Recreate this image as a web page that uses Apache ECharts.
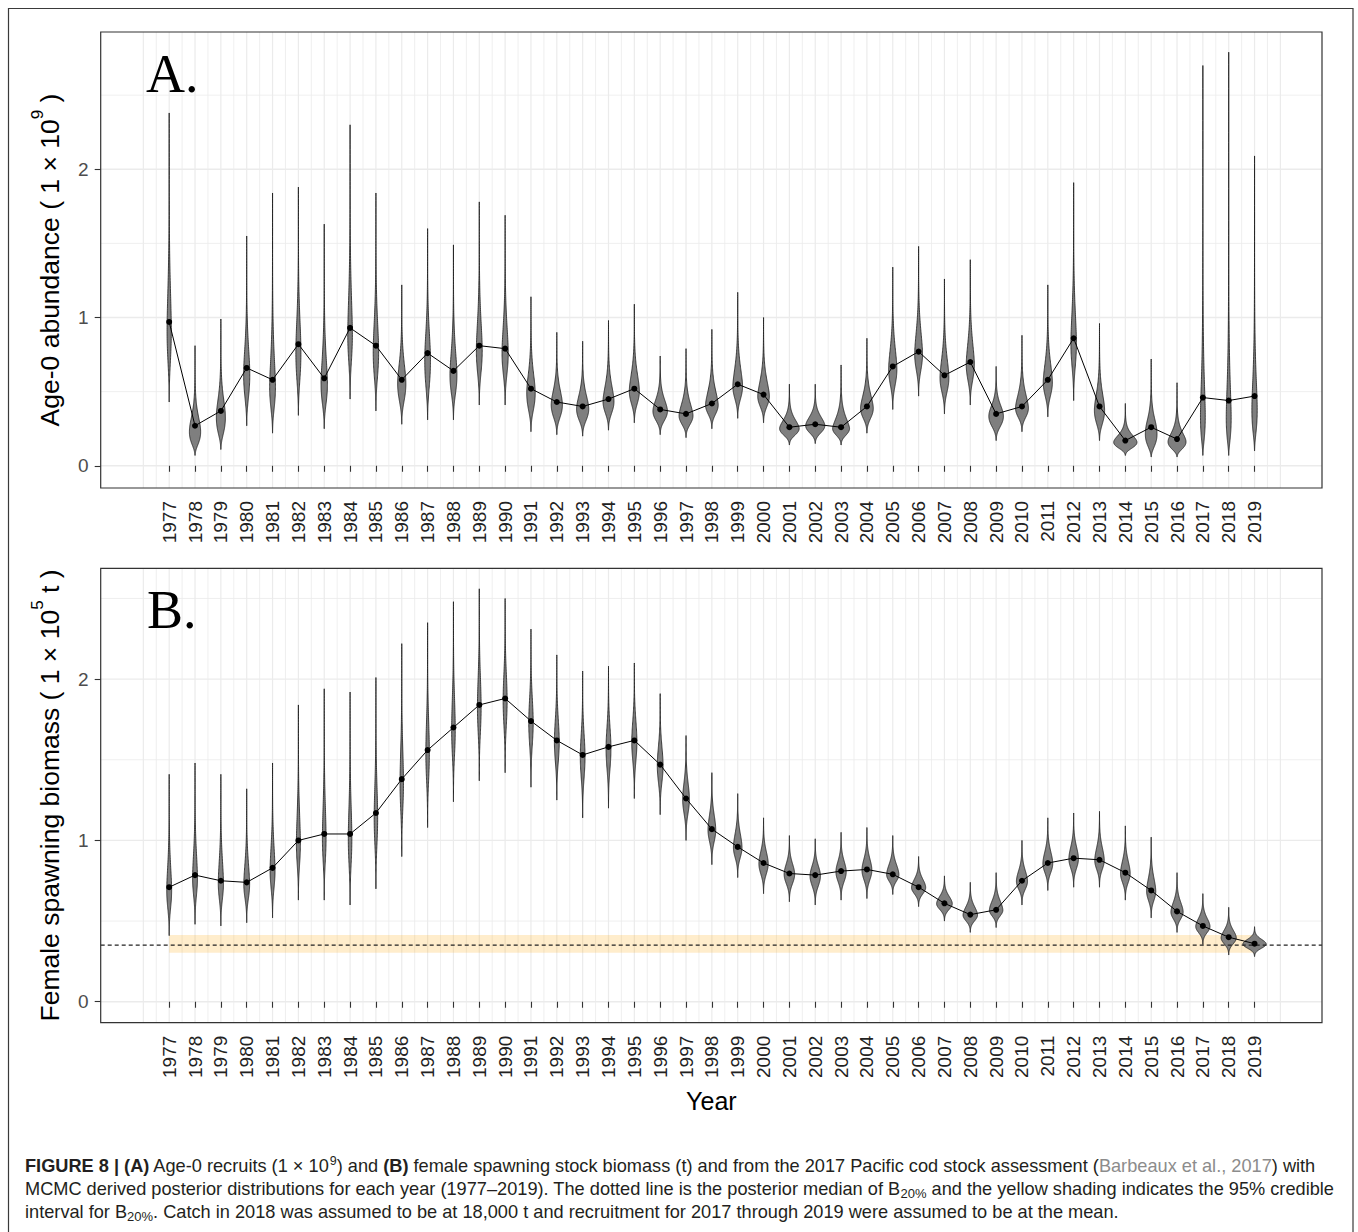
<!DOCTYPE html>
<html><head><meta charset="utf-8">
<script src="https://cdn.jsdelivr.net/npm/echarts@6/dist/echarts.min.js"></script>
<style>html,body{margin:0;padding:0;background:#fff}#c{width:1358px;height:1232px}</style>
</head><body><div id="c"></div>
<script>
const years = [1977,1978,1979,1980,1981,1982,1983,1984,1985,1986,1987,1988,1989,1990,1991,1992,1993,1994,1995,1996,1997,1998,1999,2000,2001,2002,2003,2004,2005,2006,2007,2008,2009,2010,2011,2012,2013,2014,2015,2016,2017,2018,2019];
// Panel A: Age-0 recruits (1e9)
const recMedian = [0.97,0.27,0.37,0.66,0.58,0.82,0.59,0.93,0.81,0.58,0.76,0.64,0.81,0.79,0.52,0.43,0.40,0.45,0.52,0.38,0.35,0.42,0.55,0.48,0.26,0.28,0.26,0.40,0.67,0.77,0.61,0.70,0.35,0.40,0.58,0.86,0.40,0.17,0.26,0.18,0.46,0.44,0.47];
const recLow    = [0.43,0.07,0.11,0.27,0.22,0.34,0.25,0.45,0.37,0.28,0.31,0.31,0.41,0.41,0.23,0.21,0.20,0.24,0.29,0.21,0.19,0.25,0.32,0.29,0.14,0.15,0.14,0.22,0.38,0.47,0.35,0.41,0.17,0.23,0.33,0.44,0.17,0.07,0.06,0.06,0.07,0.07,0.10];
const recHigh   = [2.38,0.81,0.99,1.55,1.84,1.88,1.63,2.30,1.84,1.22,1.60,1.49,1.78,1.69,1.14,0.90,0.84,0.98,1.09,0.74,0.79,0.92,1.17,1.00,0.55,0.55,0.68,0.86,1.34,1.48,1.26,1.39,0.67,0.88,1.22,1.91,0.96,0.42,0.72,0.56,2.70,2.79,2.09];
// Panel B: female spawning biomass (1e5 t)
const ssbMedian = [0.71,0.785,0.75,0.74,0.83,1.00,1.04,1.04,1.17,1.38,1.56,1.70,1.84,1.88,1.74,1.62,1.53,1.58,1.62,1.47,1.26,1.07,0.96,0.86,0.795,0.785,0.81,0.82,0.79,0.71,0.61,0.54,0.57,0.75,0.86,0.89,0.88,0.80,0.69,0.56,0.47,0.40,0.36];
const ssbLow    = [0.41,0.48,0.47,0.49,0.52,0.63,0.63,0.60,0.70,0.90,1.08,1.24,1.37,1.42,1.33,1.25,1.14,1.20,1.26,1.16,1.00,0.85,0.77,0.67,0.62,0.60,0.63,0.64,0.665,0.59,0.50,0.43,0.46,0.60,0.69,0.71,0.71,0.63,0.52,0.43,0.355,0.29,0.28];
const ssbHigh   = [1.41,1.48,1.41,1.32,1.48,1.84,1.94,1.92,2.01,2.22,2.35,2.48,2.56,2.50,2.31,2.15,2.05,2.08,2.10,1.91,1.65,1.42,1.29,1.14,1.03,1.01,1.05,1.08,1.03,0.90,0.78,0.74,0.80,1.00,1.14,1.17,1.18,1.09,1.02,0.80,0.67,0.585,0.465];
// B20% reference
const b20Median = 0.351, b20Low = 0.304, b20High = 0.413;
const yTicks = [0,1,2];
const yGridMajor = [0,1,2];
const yGridMinor = [0.5,1.5,2.5];
const xGridStart = [1976,1976.5];
const xGridEnd = [2020];

const FONT = 'Liberation Sans, Arial, sans-serif';
const K = 3.3, N = 60, HALF = 0.45;

function buildViolins(med, lo, hi) {
  const shapes = years.map((yr, i) => {
    const m = med[i], a = lo[i], b = hi[i];
    const sLo = Math.log(m / a) / K, sHi = Math.log(b / m) / K;
    const zs = [];
    for (let j = 0; j <= N; j++) zs.push(-K * sLo * (1 - j / N));
    for (let j = 1; j <= N; j++) zs.push(K * sHi * j / N);
    const prof = zs.map(z => { const s = z < 0 ? sLo : sHi; const y = m * Math.exp(z); return [y, Math.exp(-z * z / (2 * s * s)) / y]; });
    let area = 0;
    for (let j = 1; j < prof.length; j++) area += (prof[j][0] - prof[j - 1][0]) * (prof[j][1] + prof[j - 1][1]) / 2;
    return prof.map(p => [p[0], p[1] / area]);
  });
  const fmax = Math.max(...shapes.map(s => Math.max(...s.map(p => p[1]))));
  return shapes.map(s => s.map(p => [p[0], HALF * p[1] / fmax]));
}
const violinsA = buildViolins(recMedian, recLow, recHigh);
const violinsB = buildViolins(ssbMedian, ssbLow, ssbHigh);

// grid line positions (years and half years)
const xGrid = [];
xGridStart.forEach(v => xGrid.push([v, v % 1 === 0 ? 1 : 0]));
years.forEach(y => { xGrid.push([y, 1]); xGrid.push([y + 0.5, 0]); });
xGridEnd.forEach(v => xGrid.push([v, 1]));
const yGrid = yGridMajor.map(v => [v, 1]).concat(yGridMinor.map(v => [v, 0]));

function vGridSeries(gi) {
  return { type: 'custom', xAxisIndex: gi, yAxisIndex: gi, z: 0, silent: true, data: xGrid,
    renderItem(params, api) {
      const cs = params.coordSys; const x = api.coord([api.value(0), 0])[0];
      return { type: 'line', shape: { x1: x, y1: cs.y, x2: x, y2: cs.y + cs.height },
        style: { stroke: '#ebebeb', lineWidth: api.value(1) ? 1.2 : 0.8 } };
    } };
}
function hGridSeries(gi) {
  return { type: 'custom', xAxisIndex: gi, yAxisIndex: gi, z: 0, silent: true, data: yGrid.map(d => [2000, d[0], d[1]]),
    renderItem(params, api) {
      const cs = params.coordSys; const y = api.coord([2000, api.value(1)])[1];
      return { type: 'line', shape: { x1: cs.x, y1: y, x2: cs.x + cs.width, y2: y },
        style: { stroke: '#ebebeb', lineWidth: api.value(2) ? 1.3 : 0.8 } };
    } };
}
function borderSeries(gi) {
  return { type: 'custom', xAxisIndex: gi, yAxisIndex: gi, z: 10, silent: true, data: [[2000, 1]],
    renderItem(params) {
      const cs = params.coordSys;
      return { type: 'rect', shape: { x: cs.x, y: cs.y, width: cs.width, height: cs.height },
        style: { fill: 'none', stroke: '#333', lineWidth: 1.2 } };
    } };
}
function violinSeries(gi, med, shapes) {
  return { type: 'custom', xAxisIndex: gi, yAxisIndex: gi, z: 3, silent: true,
    data: years.map((y, i) => [y, med[i]]),
    renderItem(params, api) {
      const prof = shapes[params.dataIndex]; const x = api.value(0);
      const left = prof.map(p => api.coord([x - p[1], p[0]]));
      const right = prof.slice().reverse().map(p => api.coord([x + p[1], p[0]]));
      return { type: 'polygon', shape: { points: left.concat(right) },
        style: { fill: '#7f7f7f', stroke: '#1a1a1a', lineWidth: 0.8 } };
    } };
}
function medianSeries(gi, med) {
  return { type: 'line', xAxisIndex: gi, yAxisIndex: gi, z: 5, silent: true,
    data: years.map((y, i) => [y, med[i]]),
    lineStyle: { color: '#000', width: 1 }, symbol: 'circle', symbolSize: 6,
    itemStyle: { color: '#000' } };
}

function xAxisCfg(gi, withName) {
  const a = { type: 'value', gridIndex: gi, min: 1974.35, max: 2021.61,
    axisLine: { show: false }, splitLine: { show: false },
    axisTick: { show: true, customValues: years, length: 6, lineStyle: { color: '#333', width: 1.1 } },
    axisLabel: { customValues: years, rotate: 90, margin: 13, fontSize: 19, color: '#222', fontFamily: FONT,
      formatter: v => String(v) } };
  if (withName) {
    a.name = 'Year'; a.nameLocation = 'middle'; a.nameGap = 66;
    a.nameTextStyle = { fontSize: 25, color: '#000', fontFamily: FONT };
  }
  return a;
}
function yAxisCfg(gi, min, max, name, sup, after) {
  return { type: 'value', gridIndex: gi, min: min, max: max,
    axisLine: { show: false }, splitLine: { show: false },
    axisTick: { show: true, customValues: yTicks, length: 6, lineStyle: { color: '#333', width: 1.1 } },
    axisLabel: { customValues: yTicks, margin: 12, fontSize: 19, color: '#4d4d4d', fontFamily: FONT, formatter: v => String(v) },
    name: '{t|' + name + '}{s|' + sup + '}{t|' + after + '}', nameLocation: 'middle', nameRotate: 90, nameGap: 30,
    nameTextStyle: { rich: {
      t: { fontSize: 26.5, lineHeight: 42, color: '#000', fontFamily: FONT },
      s: { fontSize: 17, lineHeight: 17, verticalAlign: 'top', color: '#000', fontFamily: FONT } } } };
}

const chart = echarts.init(document.getElementById('c'), null, { renderer: 'svg', width: 1358, height: 1232 });
const CF = 18.2;
const capRich = {
  b: { fontWeight: 'bold', fontSize: CF, lineHeight: 23, fontFamily: FONT, fill: '#231f20' },
  n: { fontSize: CF, lineHeight: 23, fontFamily: FONT, fill: '#231f20' },
  g: { fontSize: CF, lineHeight: 23, fontFamily: FONT, fill: '#8c8c8c' },
  sup: { fontSize: 12.5, lineHeight: 12.5, verticalAlign: 'top', fontFamily: FONT, fill: '#231f20' },
  sub: { fontSize: 13, lineHeight: 13, verticalAlign: 'bottom', fontFamily: FONT, fill: '#231f20' }
};
function capText(y, text) {
  return { type: 'text', x: 25, y: y, silent: true,
    style: { text: text, rich: capRich, fontSize: CF, fontFamily: FONT, fill: '#231f20' } };
}

chart.setOption({
  animation: false,
  backgroundColor: '#fff',
  grid: [
    { left: 100.7, top: 32, width: 1221.3, height: 456 },
    { left: 100.7, top: 568.3, width: 1221.3, height: 454.4 }
  ],
  xAxis: [xAxisCfg(0, false), xAxisCfg(1, true)],
  yAxis: [
    yAxisCfg(0, -0.150, 2.926, 'Age-0 abundance ( 1 × 10', '9', ' )'),
    yAxisCfg(1, -0.130, 2.687, 'Female spawning biomass ( 1 × 10', '5', ' t )')
  ],
  graphic: [
    { type: 'rect', silent: true, shape: { x: 8.5, y: 8.5, width: 1344.5, height: 1240 },
      style: { fill: 'none', stroke: '#3a3a3a', lineWidth: 1.2 } },
    { type: 'text', x: 146, y: 73.6, silent: true, z: 20,
      style: { text: 'A.', fontSize: 54, fontFamily: 'Liberation Serif, Times New Roman, serif', fill: '#000', verticalAlign: 'middle' } },
    { type: 'text', x: 147, y: 609.6, silent: true, z: 20,
      style: { text: 'B.', fontSize: 54, fontFamily: 'Liberation Serif, Times New Roman, serif', fill: '#000', verticalAlign: 'middle' } },
    capText(1154, '{b|FIGURE 8 | (A)}{n| Age-0 recruits (1 × 10}{sup|9}{n|) and }{b|(B)}{n| female spawning stock biomass (t) and from the 2017 Pacific cod stock assessment (}{g|Barbeaux et al., 2017}{n|) with}'),
    capText(1177, '{n|MCMC derived posterior distributions for each year (1977–2019). The dotted line is the posterior median of B}{sub|20%}{n| and the yellow shading indicates the 95% credible}'),
    capText(1200, '{n|interval for B}{sub|20%}{n|. Catch in 2018 was assumed to be at 18,000 t and recruitment for 2017 through 2019 were assumed to be at the mean.}')
  ],
  series: [
    vGridSeries(0), hGridSeries(0), vGridSeries(1), hGridSeries(1),
    // B20% credible interval band
    { type: 'custom', xAxisIndex: 1, yAxisIndex: 1, z: 1, silent: true,
      data: [[years[0], b20Low, years[years.length - 1], b20High]],
      renderItem(params, api) {
        const p0 = api.coord([api.value(0), api.value(1)]); const p1 = api.coord([api.value(2), api.value(3)]);
        return { type: 'rect', shape: { x: p0[0], y: p1[1], width: p1[0] - p0[0], height: p0[1] - p1[1] },
          style: { fill: 'rgba(255,165,0,0.2)' } };
      } },
    violinSeries(0, recMedian, violinsA),
    violinSeries(1, ssbMedian, violinsB),
    // B20% median dashed line
    { type: 'custom', xAxisIndex: 1, yAxisIndex: 1, z: 4, silent: true, data: [[2000, b20Median]],
      renderItem(params, api) {
        const cs = params.coordSys; const y = api.coord([2000, api.value(1)])[1];
        return { type: 'line', shape: { x1: cs.x, y1: y, x2: cs.x + cs.width, y2: y },
          style: { stroke: '#222', lineWidth: 1.1, lineDash: [4, 3] } };
      } },
    medianSeries(0, recMedian),
    medianSeries(1, ssbMedian),
    borderSeries(0), borderSeries(1)
  ]
});
</script></body></html>
